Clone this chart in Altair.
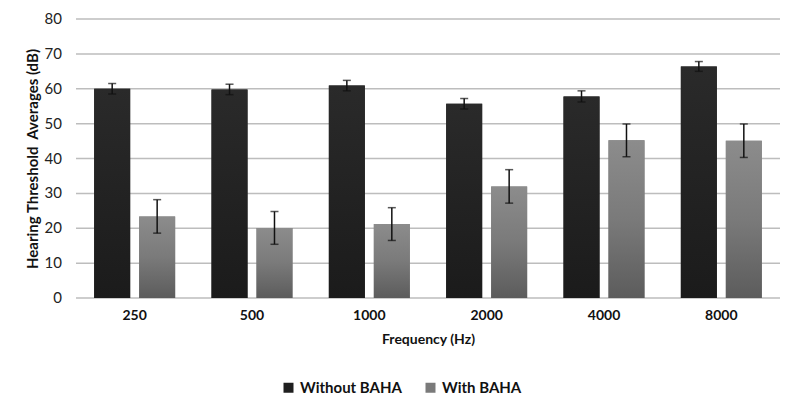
import altair as alt
import pandas as pd

freqs = ["250", "500", "1000", "2000", "4000", "8000"]
without_baha = [60.0, 59.8, 60.9, 55.7, 57.8, 66.4]
without_err = [1.5, 1.5, 1.5, 1.5, 1.6, 1.4]
with_baha = [23.4, 20.1, 21.2, 32.0, 45.2, 45.1]
with_err = [4.8, 4.7, 4.7, 4.8, 4.7, 4.8]
series = ["Without BAHA", "With BAHA"]
y_ticks = [0, 10, 20, 30, 40, 50, 60, 70, 80]

rows = []
for f, v, e in zip(freqs, without_baha, without_err):
    rows.append({"freq": f, "series": series[0], "value": v, "err": e})
for f, v, e in zip(freqs, with_baha, with_err):
    rows.append({"freq": f, "series": series[1], "value": v, "err": e})
df = pd.DataFrame(rows)
ticks_df = pd.DataFrame({"t": y_ticks})

FONT = "Lato"
Y_TITLE = "Hearing Threshold\u00a0\u00a0Averages (dB)"

x = alt.X("freq:N", sort=freqs, title="Frequency (Hz)",
          scale=alt.Scale(paddingInner=0.31, paddingOuter=0.155),
          axis=alt.Axis(labelAngle=0, labelFontWeight="bold", labelFontSize=14,
                        labelColor="#111", labelPadding=10, ticks=False, domain=False,
                        titleFontSize=14, titleFontWeight="bold", titlePadding=10,
                        titleColor="#111"))
xo = alt.XOffset("series:N", sort=series, scale=alt.Scale(paddingInner=0.2, paddingOuter=0))
y_scale = alt.Scale(domain=[0, 80], nice=False)
y_axis = alt.Axis(labels=False, grid=False, ticks=False, domain=False,
                  titleFontSize=15, titleFontWeight="bold", titleColor="#111",
                  titlePadding=36)


def yenc(field):
    return alt.Y(field, title=Y_TITLE, scale=y_scale, axis=y_axis)


base = alt.Chart(df)

grid = alt.Chart(ticks_df).mark_rule(color="#bdbdbd", strokeWidth=1.5).encode(
    y=yenc("t:Q"))
ylabels = alt.Chart(ticks_df).mark_text(align="right", baseline="middle", fontSize=15,
                                        color="#222").encode(
    y=yenc("t:Q"), x=alt.value(-14), text=alt.Text("t:Q", format="d"))

bars = base.mark_bar().encode(
    x=x, xOffset=xo, y=yenc("value:Q"),
    color=alt.Color("series:N", sort=series,
                    scale=alt.Scale(domain=series, range=["#1f1f1f", "#7a7a7a"]),
                    legend=alt.Legend(title=None, orient="none", direction="horizontal",
                                      legendX=205, legendY=361, symbolType="square",
                                      symbolSize=100, labelFontSize=15, labelFontWeight="bold",
                                      labelColor="#111", columnPadding=21, labelOffset=4,
                                      symbolStrokeWidth=0)),
)

grad_gray = alt.Gradient(gradient="linear", x1=0, x2=0, y1=0, y2=1,
                         stops=[alt.GradientStop(color="#8c8c8c", offset=0),
                                alt.GradientStop(color="#7a7a7a", offset=0.5),
                                alt.GradientStop(color="#5c5c5c", offset=1)])
grad_dark = alt.Gradient(gradient="linear", x1=0, x2=0, y1=0, y2=1,
                         stops=[alt.GradientStop(color="#2a2a2a", offset=0),
                                alt.GradientStop(color="#1b1b1b", offset=1)])

gray_overlay = base.transform_filter(alt.datum.series == series[1]).mark_bar(fill=grad_gray).encode(
    x=x, xOffset=xo, y=yenc("value:Q"))
dark_overlay = base.transform_filter(alt.datum.series == series[0]).mark_bar(fill=grad_dark).encode(
    x=x, xOffset=xo, y=yenc("value:Q"))

eb = base.transform_calculate(lo="datum.value - datum.err", hi="datum.value + datum.err")
rule = eb.mark_rule(color="#111", strokeWidth=1.5).encode(
    x=x, xOffset=xo, y=yenc("lo:Q"), y2="hi:Q")
cap_lo = eb.mark_tick(color="#111", thickness=1.5, size=8, orient="horizontal").encode(
    x=x, xOffset=xo, y=yenc("lo:Q"))
cap_hi = eb.mark_tick(color="#111", thickness=1.5, size=8, orient="horizontal").encode(
    x=x, xOffset=xo, y=yenc("hi:Q"))

chart = alt.layer(grid, bars, dark_overlay, gray_overlay, rule, cap_lo, cap_hi, ylabels).properties(
    width=704, height=279,
    autosize=alt.AutoSizeParams(type="none"),
    padding={"left": 68, "top": 11, "right": 8, "bottom": 110},
).configure(font=FONT).configure_view(stroke=None)

chart.save("out.html", embed_options={"renderer": "svg", "actions": False})
